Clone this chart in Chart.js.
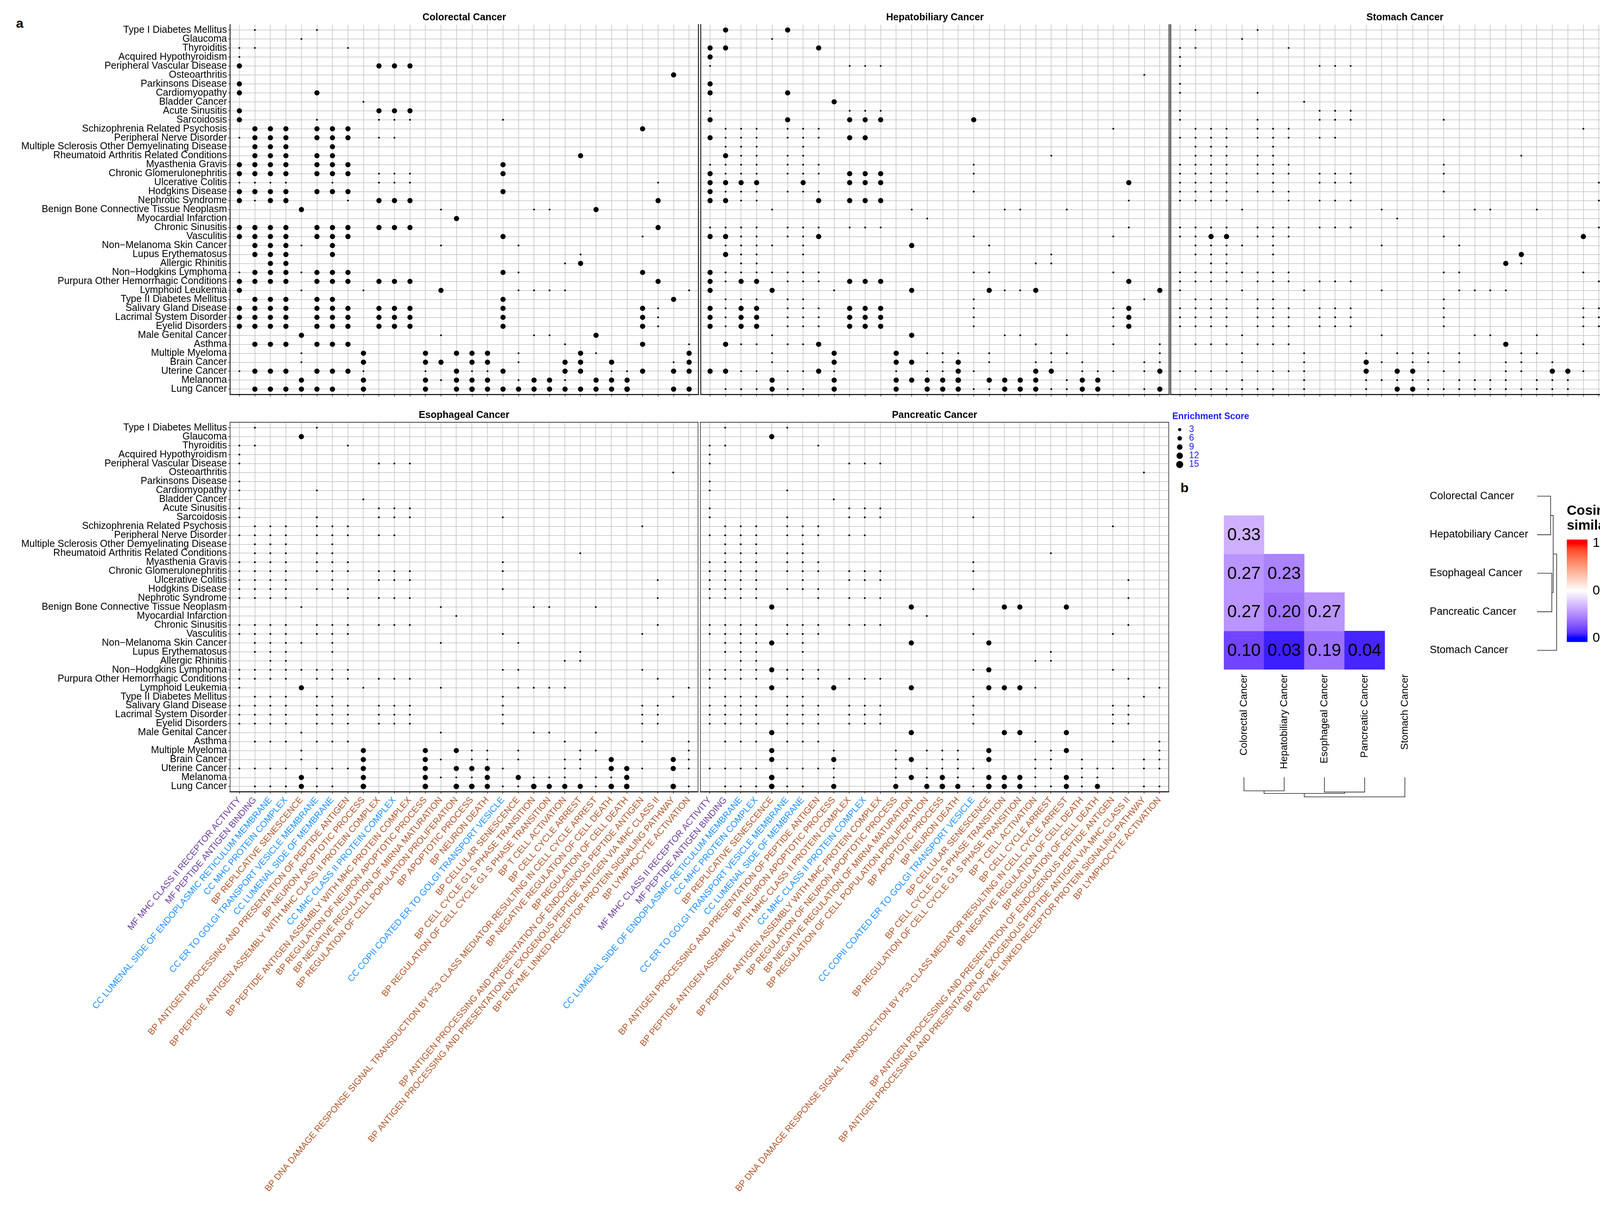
<!DOCTYPE html>
<html>
<head>
<meta charset="utf-8">
<title>Enrichment dot plots and cosine similarity</title>
<script src="https://cdn.jsdelivr.net/npm/chart.js@4.4.1/dist/chart.umd.min.js"></script>
<style>
  html, body { margin:0; padding:0; background:#fff; }
  body { position:relative; width:4229px; height:3095px; overflow:hidden; font-family:'Liberation Sans', Arial, sans-serif; }
  canvas { position:absolute; }
  .tag { position:absolute; font-weight:bold; font-size:34px; line-height:1; color:#000; }
</style>
</head>
<body>
<div class="tag" style="left:41px;top:42px;">a</div>
<div class="tag" style="left:3022px;top:1231px;">b</div>
<script>
// ---------------- DATA ----------------
const diseases = ["Type I Diabetes Mellitus","Glaucoma","Thyroiditis","Acquired Hypothyroidism","Peripheral Vascular Disease","Osteoarthritis","Parkinsons Disease","Cardiomyopathy","Bladder Cancer","Acute Sinusitis","Sarcoidosis","Schizophrenia Related Psychosis","Peripheral Nerve Disorder","Multiple Sclerosis Other Demyelinating Disease","Rheumatoid Arthritis Related Conditions","Myasthenia Gravis","Chronic Glomerulonephritis","Ulcerative Colitis","Hodgkins Disease","Nephrotic Syndrome","Benign Bone Connective Tissue Neoplasm","Myocardial Infarction","Chronic Sinusitis","Vasculitis","Non\u2212Melanoma Skin Cancer","Lupus Erythematosus","Allergic Rhinitis","Non\u2212Hodgkins Lymphoma","Purpura Other Hemorrhagic Conditions","Lymphoid Leukemia","Type II Diabetes Mellitus","Salivary Gland Disease","Lacrimal System Disorder","Eyelid Disorders","Male Genital Cancer","Asthma","Multiple Myeloma","Brain Cancer","Uterine Cancer","Melanoma","Lung Cancer"];

const goTerms = ["MF MHC CLASS II RECEPTOR ACTIVITY","MF PEPTIDE ANTIGEN BINDING","CC LUMENAL SIDE OF ENDOPLASMIC RETICULUM MEMBRANE","CC MHC PROTEIN COMPLEX","BP REPLICATIVE SENESCENCE","CC ER TO GOLGI TRANSPORT VESICLE MEMBRANE","CC LUMENAL SIDE OF MEMBRANE","BP ANTIGEN PROCESSING AND PRESENTATION OF PEPTIDE ANTIGEN","BP NEURON APOPTOTIC PROCESS","BP PEPTIDE ANTIGEN ASSEMBLY WITH MHC CLASS II PROTEIN COMPLEX","CC MHC CLASS II PROTEIN COMPLEX","BP PEPTIDE ANTIGEN ASSEMBLY WITH MHC PROTEIN COMPLEX","BP REGULATION OF NEURON APOPTOTIC PROCESS","BP NEGATIVE REGULATION OF MIRNA MATURATION","BP REGULATION OF CELL POPULATION PROLIFERATION","BP APOPTOTIC PROCESS","BP NEURON DEATH","CC COPII COATED ER TO GOLGI TRANSPORT VESICLE","BP CELLULAR SENESCENCE","BP CELL CYCLE G1 S PHASE TRANSITION","BP REGULATION OF CELL CYCLE G1 S PHASE TRANSITION","BP T CELL ACTIVATION","BP CELL CYCLE ARREST","BP DNA DAMAGE RESPONSE SIGNAL TRANSDUCTION BY P53 CLASS MEDIATOR RESULTING IN CELL CYCLE ARREST","BP NEGATIVE REGULATION OF CELL DEATH","BP REGULATION OF CELL DEATH","BP ANTIGEN PROCESSING AND PRESENTATION OF ENDOGENOUS PEPTIDE ANTIGEN","BP ANTIGEN PROCESSING AND PRESENTATION OF EXOGENOUS PEPTIDE ANTIGEN VIA MHC CLASS II","BP ENZYME LINKED RECEPTOR PROTEIN SIGNALING PATHWAY","BP LYMPHOCYTE ACTIVATION"];

const termClassColors = { MF: "#6a3d9a", CC: "#1e90ff", BP: "#b0562b" };

// Estimated enrichment scores: one string per disease row, one digit per GO term (0 = no dot)
const colorectalScores = [
"01000 10000 00000 00000 00000 00000","00001 00000 00000 00000 00000 00000","11000 00100 00000 00000 00000 00000","10000 00000 00000 00000 00000 00000",
"80000 00008 88000 00000 00000 00000","00000 00000 00000 00000 00000 00080","80000 00000 00000 00000 00000 00000","80000 80000 00000 00000 00000 00000",
"00000 00010 00000 00000 00000 00000","80000 00008 88000 00000 00000 00000","80000 10001 11000 00100 00000 00000","08880 88800 00000 00000 00000 08000",
"18880 88801 10000 00000 00000 00000","08880 08000 00000 00000 00000 00000","08880 88000 00000 00000 00800 00000","88880 88800 00000 00800 00000 00000",
"88880 88801 11000 00800 00000 00000","11110 01001 11000 00000 00000 00100","88880 88800 00000 00800 00000 00000","81880 00108 88000 00000 00000 00800",
"00008 00000 00010 00001 10080 00000","00000 00000 00008 00000 00000 00000","88880 88808 88000 00000 00000 00800","88880 88800 00000 00800 00000 01000",
"08881 08000 00010 00010 00000 00000","08880 08000 00000 00000 00100 00000","00880 00000 00000 00000 01800 00000","18881 88800 00000 00810 00000 08000",
"88880 88808 88000 00000 00000 00800","80001 00010 00080 00011 11000 00001","08880 88000 00000 00800 00000 00080","88880 88808 88000 00800 00000 08100",
"88880 88808 88000 00800 00000 08100","88880 88808 88000 00800 00000 08100","00008 00000 00010 00001 10080 00000","08880 88800 00000 00000 01000 08001",
"00001 00080 00808 88010 00810 00008","00001 00080 00880 88010 08808 00018","18880 88810 00108 11800 08801 18088","00008 00080 00818 88018 81088 80000",
"08888 88080 00808 98888 88888 90088"];

const hepatobiliaryScores = [
"08000 80000 00000 00000 00000 00000","00001 00000 00000 00000 00000 00000","88000 00800 00000 00000 00000 00000","80000 00000 00000 00000 00000 00000",
"10000 00001 11000 00000 00000 00000","00000 00000 00000 00000 00000 00010","80000 00000 00000 00000 00000 00000","80000 80000 00000 00000 00000 00000",
"00000 00080 00000 00000 00000 00000","10000 00001 11000 00000 00000 00000","80000 80008 88000 00800 00000 00000","01110 11100 00000 00000 00000 01000",
"81110 11108 80000 00000 00000 00000","01110 01000 00000 00000 00000 00000","08110 11000 00000 00000 00100 00000","11110 11100 00000 00100 00000 00000",
"81110 11108 88000 00100 00000 00000","88880 08008 88000 00000 00000 00800","81110 11100 00000 00100 00000 00000","88110 00808 88000 00000 00000 00100",
"00001 00000 00010 00001 10010 00000","00000 00000 00001 00000 00000 00000","11110 11101 11000 00000 00000 00100","88110 11800 00000 00100 00000 01000",
"01111 01000 00080 00010 00000 00000","08110 01000 00000 00000 00100 00000","00110 00000 00000 00000 01100 00000","81111 11100 00000 00110 00000 01000",
"81880 11108 88000 00000 00000 00800","80008 00010 00080 00081 18000 00008","01110 11000 00000 00100 00000 00010","81880 11108 88000 00100 00000 01800",
"81880 11108 88000 00100 00000 01800","81880 11108 88000 00100 00000 01800","00001 00000 00080 00001 10010 00000","08110 11800 00000 00000 01000 01001",
"00001 00080 00801 11010 00110 00001","00001 00080 00880 18010 01101 00011","88110 11810 00101 18100 08801 11018","00008 00080 00888 89088 88018 80000",
"01118 11080 00808 88118 88118 80018"];

const stomachScores = [
"01000 10000 00000 00000 00000 00000","00001 00000 00000 00000 00000 00000","11000 00100 00000 00000 00000 00000","10000 00000 00000 00000 00000 00000",
"10000 00001 11000 00000 00000 00000","00000 00000 00000 00000 00000 00010","10000 00000 00000 00000 00000 00000","10000 10000 00000 00000 00000 00000",
"00000 00010 00000 00000 00000 00000","10000 00001 11000 00000 00000 00000","10000 10001 11000 00100 00000 00000","01110 11100 00000 00000 00000 01000",
"11110 11101 10000 00000 00000 00000","01110 01000 00000 00000 00000 00000","01110 11000 00000 00000 00100 00000","11110 11100 00000 00100 00000 00000",
"11110 11101 11000 00100 00000 00000","11110 01001 11000 00000 00000 00100","11110 11100 00000 00100 00000 00000","11110 00101 11000 00000 00000 00100",
"00001 00000 00010 00001 10010 00000","00000 00000 00001 00000 00000 00000","11110 11101 11000 00000 00000 00100","11880 11100 00000 00100 00000 08000",
"01111 01000 00010 00010 00000 00000","01110 01000 00000 00000 00800 00000","00110 00000 00000 00000 08100 00000","11111 11100 00000 00110 00000 01000",
"11110 11101 11000 00000 00000 00100","10001 00010 00010 00011 11000 00001","01110 11000 00000 00100 00000 00010","11110 11101 11000 00100 00000 01100",
"11110 11101 11000 00100 00000 01100","11110 11101 11000 00100 00000 01100","00001 00000 00010 00001 10010 00000","01110 11100 00000 00000 08000 01008",
"00001 00010 00101 11010 00110 00001","00001 00010 00810 11010 01101 00011","11110 11110 00808 80100 01108 81081","00001 00010 00111 11011 11011 10000",
"01111 11010 00108 81111 11111 10011"];

const esophagealScores = [
"01000 10000 00000 00000 00000 00000","00008 00000 00000 00000 00000 00000","11000 00100 00000 00000 00000 00000","10000 00000 00000 00000 00000 00000",
"10000 00001 11000 00000 00000 00000","00000 00000 00000 00000 00000 00010","10000 00000 00000 00000 00000 00000","10000 10000 00000 00000 00000 00000",
"00000 00010 00000 00000 00000 00000","10000 00001 11000 00000 00000 00000","10000 10001 11000 00100 00000 00000","01110 11100 00000 00000 00000 01000",
"11110 11101 10000 00000 00000 00000","01110 01000 00000 00000 00000 00000","01110 11000 00000 00000 00100 00000","11110 11100 00000 00100 00000 00000",
"11110 11101 11000 00100 00000 00000","11110 01001 11000 00000 00000 00100","11110 11100 00000 00100 00000 00000","11110 00101 11000 00000 00000 00100",
"00001 00000 00010 00001 10010 00000","00000 00000 00001 00000 00000 00000","11110 11101 11000 00000 00000 00100","11110 11100 00000 00100 00000 01000",
"01111 01000 00010 00010 00000 00000","01110 01000 00000 00000 00100 00000","00110 00000 00000 00000 01100 00000","11111 11100 00000 00110 00000 01000",
"11110 11101 11000 00000 00000 00100","10008 00010 00010 00011 11000 00001","01110 11000 00000 00100 00000 00010","11110 11101 11000 00100 00000 01100",
"11110 11101 11000 00100 00000 01100","11110 11101 11000 00100 00000 01100","00001 00000 00010 00001 10010 00000","01110 11100 00000 00000 01000 01001",
"00001 00080 00808 11010 00110 00001","00001 00080 00810 11010 01108 00081","11110 11180 00808 88100 01108 81081","00008 00080 00811 18081 11011 80000",
"01118 11090 00909 98119 88819 90091"];

const pancreaticScores = [
"01000 10000 00000 00000 00000 00000","00008 00000 00000 00000 00000 00000","11000 00100 00000 00000 00000 00000","10000 00000 00000 00000 00000 00000",
"10000 00001 11000 00000 00000 00000","00000 00000 00000 00000 00000 00010","10000 00000 00000 00000 00000 00000","10000 10000 00000 00000 00000 00000",
"00000 00010 00000 00000 00000 00000","10000 00001 11000 00000 00000 00000","10000 10001 11000 00100 00000 00000","01110 11100 00000 00000 00000 01000",
"11110 11101 10000 00000 00000 00000","01110 01000 00000 00000 00000 00000","01110 11000 00000 00000 00100 00000","11110 11100 00000 00100 00000 00000",
"11110 11101 11000 00100 00000 00000","11110 01001 11000 00000 00000 00100","11110 11100 00000 00100 00000 00000","11110 00101 11000 00000 00000 00100",
"00008 00000 00080 00008 80080 00000","00000 00000 00001 00000 00000 00000","11110 11101 11000 00000 00000 00100","11110 11100 00000 00100 00000 01000",
"01118 01000 00080 00080 00000 00000","01110 01000 00000 00000 00100 00000","00110 00000 00000 00000 01100 00000","11118 11100 00000 00180 00000 01000",
"11110 11101 11000 00000 00000 00100","10008 00080 00080 00088 81000 00001","01110 11000 00000 00100 00000 00010","11110 11101 11000 00100 00000 01100",
"11110 11101 11000 00100 00000 01100","11110 11101 11000 00100 00000 01100","00008 00000 00080 00008 80080 00000","01110 11100 00000 00000 01000 01001",
"00008 00010 00101 11080 00180 00001","00008 00080 00180 11080 01101 00011","11110 11110 00101 11100 01101 11011","00009 00010 00181 81088 81081 10000",
"01119 11080 00808 98198 81181 80011"];

const legendScores = [3, 6, 9, 12, 15];

const heatCols = ["Colorectal Cancer","Hepatobiliary Cancer","Esophageal Cancer","Pancreatic Cancer","Stomach Cancer"];
const heatRowIndex = [1, 2, 3, 4];
const heatValues = [[0.33], [0.27, 0.23], [0.27, 0.20, 0.27], [0.10, 0.03, 0.19, 0.04]];
const dendroMerges = [[-1, -2], [-3, -4], [1, 2], [3, -5]];
const dendroHeights = [0.67, 0.73, 0.80, 0.97];
const colorbarTicks = [0, 0.5, 1];
const colorbarLabels = ["0", "0.5", "1"];

// ---------------- HELPERS ----------------
Chart.defaults.font.family = "'Liberation Sans', Arial, Helvetica, sans-serif";
Chart.defaults.color = "#000";

const radiusFor = v => 2.35 * Math.sqrt(v);
const termColor = t => t ? (termClassColors[t.slice(0, 2)] || "#000") : "#000";

function panelPoints(rows) {
  const pts = [];
  rows.forEach((row, ri) => {
    const cells = row.replace(/ /g, "");
    for (let ci = 0; ci < cells.length; ci++) {
      const v = Number(cells[ci]);
      if (v > 0) pts.push({ x: ci + 1, y: ri + 1, r: radiusFor(v) });
    }
  });
  return pts;
}

// LAB colour ramp blue - white - red at 0, 0.5, 1
function s2l(c) { c /= 255; return c <= 0.04045 ? c / 12.92 : Math.pow((c + 0.055) / 1.055, 2.4); }
function l2s(c) { const v = c <= 0.0031308 ? 12.92 * c : 1.055 * Math.pow(c, 1 / 2.4) - 0.055; return Math.round(Math.max(0, Math.min(1, v)) * 255); }
function rgb2lab(rgb) {
  const R = s2l(rgb[0]), G = s2l(rgb[1]), B = s2l(rgb[2]);
  const X = (0.4124 * R + 0.3576 * G + 0.1805 * B) / 0.95047;
  const Y = (0.2126 * R + 0.7152 * G + 0.0722 * B);
  const Z = (0.0193 * R + 0.1192 * G + 0.9505 * B) / 1.08883;
  const f = t => t > 0.008856 ? Math.cbrt(t) : (7.787 * t + 16 / 116);
  const fx = f(X), fy = f(Y), fz = f(Z);
  return [116 * fy - 16, 500 * (fx - fy), 200 * (fy - fz)];
}
function lab2rgb(lab) {
  const fy = (lab[0] + 16) / 116, fx = fy + lab[1] / 500, fz = fy - lab[2] / 200;
  const fi = t => (t * t * t > 0.008856) ? t * t * t : (t - 16 / 116) / 7.787;
  const X = fi(fx) * 0.95047, Y = fi(fy), Z = fi(fz) * 1.08883;
  return [l2s(3.2406 * X - 1.5372 * Y - 0.4986 * Z), l2s(-0.9689 * X + 1.8758 * Y + 0.0415 * Z), l2s(0.0557 * X - 0.2040 * Y + 1.0570 * Z)];
}
const rampBreaks = [0, 0.5, 1];
const rampLabs = [[0, 0, 255], [255, 255, 255], [255, 0, 0]].map(rgb2lab);
function ramp(v) {
  v = Math.max(0, Math.min(1, v));
  const k = v <= 0.5 ? 0 : 1;
  const t = (v - rampBreaks[k]) / (rampBreaks[k + 1] - rampBreaks[k]);
  const a = rampLabs[k], b = rampLabs[k + 1];
  const c = lab2rgb([a[0] + (b[0] - a[0]) * t, a[1] + (b[1] - a[1]) * t, a[2] + (b[2] - a[2]) * t]);
  return "rgb(" + c.join(",") + ")";
}

function fitChart(chart, T) {
  for (let k = 0; k < 6; k++) {
    const a = chart.chartArea;
    const dw = Math.round((T.r - T.l) - (a.right - a.left));
    const dh = Math.round((T.b - T.t) - (a.bottom - a.top));
    if (dw === 0 && dh === 0) break;
    chart.resize(chart.width + dw, chart.height + dh);
  }
  const a = chart.chartArea;
  chart.canvas.style.left = (T.l - a.left) + "px";
  chart.canvas.style.top = (T.t - a.top) + "px";
}

function makeChart(target, init, config) {
  const canvas = document.createElement("canvas");
  canvas.width = init.w; canvas.height = init.h;
  canvas.style.left = "0px"; canvas.style.top = "0px";
  document.body.appendChild(canvas);
  config.options = Object.assign({ responsive: false, maintainAspectRatio: false, animation: false, devicePixelRatio: 1, events: [] }, config.options);
  const chart = new Chart(canvas, config);
  fitChart(chart, target);
  return chart;
}

const framePlugin = {
  id: "frame",
  afterDraw(chart, args, o) {
    const { ctx, chartArea: a } = chart;
    ctx.save(); ctx.strokeStyle = "#000"; ctx.lineCap = "square";
    const line = (x1, y1, x2, y2, w) => { ctx.lineWidth = w; ctx.beginPath(); ctx.moveTo(x1, y1); ctx.lineTo(x2, y2); ctx.stroke(); };
    line(a.left, a.top, a.left, a.bottom, o.side);
    line(a.right, a.top, a.right, a.bottom, o.side);
    if (o.top) line(a.left, a.top, a.right, a.top, o.top);
    line(a.left, a.bottom, a.right, a.bottom, o.bottom);
    ctx.restore();
  }
};

const gridOpts = ticks => ({ color: "#c2c2c2", lineWidth: 1.5, drawTicks: ticks, tickLength: 5, tickColor: "#333", tickWidth: 1.5 });

function buildPanel(title, scores, target, showX, showY, yWidth, frame) {
  const xH = showX ? 1062 : 16;
  return makeChart(target, { w: yWidth + (target.r - target.l) + 2, h: 33 + (target.b - target.t) + xH }, {
    type: "bubble",
    data: { datasets: [{ data: panelPoints(scores), backgroundColor: "#000", borderWidth: 0 }] },
    options: {
      layout: { padding: { right: 2, left: 0, top: 0, bottom: 0 } },
      plugins: {
        legend: { display: false }, tooltip: { enabled: false },
        title: { display: true, text: title, fullSize: false, color: "#000", font: { size: 25, weight: "bold" }, padding: { top: 0, bottom: 3 } },
        frame: frame
      },
      scales: {
        x: {
          type: "linear", bounds: "data", min: 0.4, max: 30.6,
          afterBuildTicks: s => { s.ticks = goTerms.map((t, i) => ({ value: i + 1 })); },
          afterFit: s => { s.height = xH; },
          ticks: { display: showX, autoSkip: false, minRotation: 50, maxRotation: 50, padding: 3, font: { size: 23 },
                   callback: v => goTerms[Math.round(v) - 1], color: c => termColor(goTerms[c.index]) },
          grid: gridOpts(true), border: { display: false }
        },
        y: {
          type: "linear", bounds: "data", reverse: true, min: 0.4, max: 41.6,
          afterBuildTicks: s => { s.ticks = diseases.map((d, i) => ({ value: i + 1 })); },
          afterFit: s => { s.width = yWidth; },
          ticks: { display: showY, autoSkip: false, padding: 3, font: { size: 25 }, color: "#000", callback: v => diseases[Math.round(v) - 1] },
          grid: gridOpts(showY), border: { display: false }
        }
      }
    },
    plugins: [framePlugin]
  });
}

// ---------------- PANELS (a) ----------------
const topFrame = { side: 2, top: 0, bottom: 2.5 };
const bottomFrame = { side: 1.3, top: 1.3, bottom: 2.5 };
buildPanel("Colorectal Cancer", colorectalScores, { l: 589, t: 63, r: 1788, b: 1010 }, false, true, 589, topFrame);
buildPanel("Hepatobiliary Cancer", hepatobiliaryScores, { l: 1794, t: 63, r: 2993, b: 1010 }, false, false, 8, topFrame);
buildPanel("Stomach Cancer", stomachScores, { l: 2997, t: 63, r: 4196, b: 1010 }, false, false, 8, topFrame);
buildPanel("Esophageal Cancer", esophagealScores, { l: 589, t: 1081, r: 1787, b: 2027 }, true, true, 589, bottomFrame);
buildPanel("Pancreatic Cancer", pancreaticScores, { l: 1793, t: 1081, r: 2992, b: 2027 }, true, false, 480, bottomFrame);

// ---------------- SIZE LEGEND ----------------
makeChart({ l: 3010, t: 1089, r: 3030, b: 1201 }, { w: 230, h: 160 }, {
  type: "bubble",
  data: { datasets: [{ data: legendScores.map((s, i) => ({ x: 0.5, y: i + 1, r: radiusFor(s) })), backgroundColor: "#000", borderWidth: 0 }] },
  options: {
    plugins: {
      legend: { display: false }, tooltip: { enabled: false },
      title: { display: true, text: "Enrichment Score", align: "start", fullSize: true, color: "#1a1aff", font: { size: 23, weight: "bold" }, padding: { top: 0, bottom: 8 } }
    },
    scales: {
      x: { type: "linear", min: 0, max: 1, display: false },
      y: {
        type: "linear", bounds: "data", reverse: true, min: 0.5, max: 5.5, position: "right",
        afterBuildTicks: s => { s.ticks = legendScores.map((v, i) => ({ value: i + 1 })); },
        afterFit: s => { s.width = 200; },
        ticks: { padding: 14, font: { size: 23 }, color: "#1a1aff", callback: v => String(legendScores[Math.round(v) - 1]) },
        grid: { display: false, drawTicks: false }, border: { display: false }
      }
    }
  }
});

// ---------------- HEATMAP (b) ----------------
const cellTextPlugin = {
  id: "cellText",
  afterDatasetsDraw(chart) {
    const ctx = chart.ctx;
    ctx.save();
    ctx.font = "44px 'Liberation Sans', Arial, sans-serif";
    ctx.fillStyle = "#000"; ctx.textAlign = "center"; ctx.textBaseline = "middle";
    chart.data.datasets.forEach((ds, i) => {
      const meta = chart.getDatasetMeta(i);
      meta.data.forEach((bar, j) => {
        const v = heatValues[i][j];
        if (v === undefined) return;
        const p = bar.getProps(["x", "y", "base"], true);
        ctx.fillText(v.toFixed(2), p.x, (p.y + p.base) / 2 + 2);
      });
    });
    ctx.restore();
  }
};

makeChart({ l: 3133, t: 1221, r: 3648, b: 1714 }, { w: 820, h: 800 }, {
  type: "bar",
  data: {
    labels: heatCols,
    datasets: heatValues.map((vals, i) => ({
      label: heatCols[heatRowIndex[i]],
      data: heatCols.map((c, j) => j < vals.length ? [heatRowIndex[i], heatRowIndex[i] + 1] : null),
      backgroundColor: heatCols.map((c, j) => j < vals.length ? ramp(vals[j]) : "rgba(0,0,0,0)"),
      borderWidth: 0, barPercentage: 1, categoryPercentage: 1, grouped: false
    }))
  },
  options: {
    plugins: { legend: { display: false }, tooltip: { enabled: false } },
    scales: {
      x: {
        type: "category", offset: true, grid: { display: false, drawTicks: false }, border: { display: false },
        ticks: { autoSkip: false, minRotation: 90, maxRotation: 90, padding: 12, font: { size: 26 }, color: "#000" },
        afterFit: s => { s.height = 270; }
      },
      y: {
        type: "linear", bounds: "data", reverse: true, min: 0, max: 5, position: "right",
        afterBuildTicks: s => { s.ticks = heatCols.map((c, i) => ({ value: i + 0.5 })); },
        afterFit: s => { s.width = 280; },
        ticks: { padding: 12, font: { size: 27 }, color: "#000", callback: v => heatCols[Math.round(v - 0.5)] },
        grid: { display: false, drawTicks: false }, border: { display: false }
      }
    }
  },
  plugins: [cellTextPlugin]
});

// ---------------- DENDROGRAMS ----------------
function dendroSegments() {
  const pos = [], ht = [], segs = [];
  const nodePos = i => i < 0 ? (-i - 1) + 0.5 : pos[i - 1];
  const nodeHt = i => i < 0 ? 0 : ht[i - 1];
  dendroMerges.forEach((m, k) => {
    const h = dendroHeights[k];
    const pa = nodePos(m[0]), pb = nodePos(m[1]);
    segs.push([[pa, nodeHt(m[0])], [pa, h], [pb, h], [pb, nodeHt(m[1])]]);
    pos.push((pa + pb) / 2); ht.push(h);
  });
  return segs;
}
const segs = dendroSegments();
const lineDs = pts => ({ data: pts, showLine: true, borderColor: "#222", borderWidth: 1.6, pointRadius: 0, fill: false, clip: false, tension: 0 });
const hMax = Math.max(...dendroHeights);

makeChart({ l: 3133, t: 1990, r: 3648, b: 2040 }, { w: 540, h: 70 }, {
  type: "scatter",
  data: { datasets: segs.map(s => lineDs(s.map(p => ({ x: p[0], y: p[1] })))) },
  options: {
    layout: { padding: 4 },
    plugins: { legend: { display: false }, tooltip: { enabled: false } },
    scales: { x: { type: "linear", min: 0, max: 5, display: false }, y: { type: "linear", min: 0, max: hMax, reverse: true, display: false } }
  }
});

makeChart({ l: 3935, t: 1221, r: 3985, b: 1714 }, { w: 70, h: 520 }, {
  type: "scatter",
  data: { datasets: segs.map(s => lineDs(s.map(p => ({ x: p[1], y: p[0] })))) },
  options: {
    layout: { padding: 4 },
    plugins: { legend: { display: false }, tooltip: { enabled: false } },
    scales: { x: { type: "linear", min: 0, max: hMax, display: false }, y: { type: "linear", min: 0, max: 5, reverse: true, display: false } }
  }
});

// ---------------- COLOR BAR ----------------
function colorbarGradient(chart) {
  const area = chart.chartArea;
  if (!area || !chart.scales.y) return "#888";
  const ys = chart.scales.y;
  const g = chart.ctx.createLinearGradient(0, ys.getPixelForValue(0), 0, ys.getPixelForValue(1));
  for (let i = 0; i <= 20; i++) g.addColorStop(i / 20, ramp(i / 20));
  return g;
}
makeChart({ l: 4011, t: 1381, r: 4064, b: 1643 }, { w: 220, h: 380 }, {
  type: "bar",
  data: { labels: ["Cosine similarity"], datasets: [{ data: [[-0.04, 1.04]], backgroundColor: c => colorbarGradient(c.chart), borderWidth: 0, barPercentage: 1, categoryPercentage: 1 }] },
  options: {
    plugins: {
      legend: { display: false }, tooltip: { enabled: false },
      title: { display: true, text: ["Cosine", "similarity"], align: "start", fullSize: true, color: "#000", font: { size: 35, weight: "bold", lineHeight: 1.09 }, padding: { top: 0, bottom: 16 } }
    },
    scales: {
      x: { type: "category", display: false, offset: true },
      y: {
        type: "linear", bounds: "data", min: -0.04, max: 1.04, position: "right",
        afterBuildTicks: s => { s.ticks = colorbarTicks.map(v => ({ value: v })); },
        afterFit: s => { s.width = 160; },
        ticks: { padding: 13, font: { size: 34 }, color: "#000", callback: v => colorbarLabels[colorbarTicks.indexOf(v)] },
        grid: { display: false, drawTicks: false }, border: { display: false }
      }
    }
  }
});
</script>
</body>
</html>
